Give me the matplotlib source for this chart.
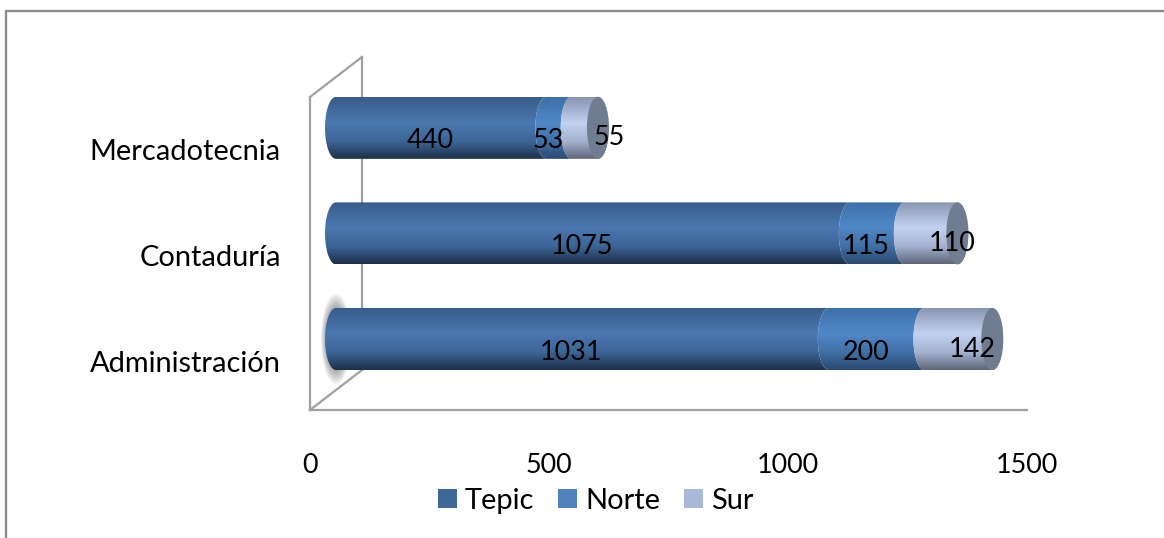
import numpy as np
import matplotlib
matplotlib.use("Agg")
import matplotlib.pyplot as plt
from matplotlib.lines import Line2D
from matplotlib.patches import Ellipse, PathPatch, Patch
from matplotlib.path import Path
from matplotlib.colors import LinearSegmentedColormap
from matplotlib.transforms import Affine2D

categories = ["Administración", "Contaduría", "Mercadotecnia"]
series_names = ["Tepic", "Norte", "Sur"]
tepic = [1031, 1075, 440]
norte = [200, 115, 53]
sur = [142, 110, 55]
x_ticks = [0, 500, 1000, 1500]

legend_colors = ["#3f6797", "#4f81bd", "#aab9d8"]
# top edge, highlight, lower part, bottom edge of each cylinder segment
gradients = [
    ["#375c8a", "#4a78b0", "#3d6596", "#1d3049"],
    ["#3c70a8", "#5088c8", "#416fa5", "#2a4a70"],
    ["#8794b0", "#c2d2f0", "#a4b2cf", "#5f6678"],
]
cap_color = "#707d90"
wall_color = "#a0a0a0"
border_color = "#8c8c8c"

W, H = 1164, 538
plt.rcParams["font.family"] = ["Lato", "DejaVu Sans"]
FS_TEXT = 29 * 72 / 100
FS_NUM = 27 * 72 / 100

fig = plt.figure(figsize=(W / 100, H / 100), dpi=100, facecolor="white")
# only the top and left edges of the frame are in the picture
fig.add_artist(Line2D([5.5 / W, 5.5 / W, 1], [0, 1 - 11 / H, 1 - 11 / H],
                      transform=fig.transFigure, color=border_color, lw=1.7))

ax = fig.add_axes([310 / W, 1 - 410 / H, (1027 - 310) / W, (410 - 97) / H])
ax.set_xlim(0, 1500)
ax.set_ylim(-0.464, 2.5)
ax.patch.set_alpha(0)

# pixel offset of the bars and of the back wall behind the front plane
bar_shift = ax.transData + Affine2D().translate(26, 22)
wall_shift = ax.transData + Affine2D().translate(52, 40)

sx = (1027 - 310) / 1500
sy = 105.5
rx = 11 / sx
half = 31 / sy

for spine in ["top", "right"]:
    ax.spines[spine].set_visible(False)
for spine in ["left", "bottom"]:
    ax.spines[spine].set_color(wall_color)
    ax.spines[spine].set_linewidth(1.6)

ax.set_xticks(x_ticks)
ax.set_yticks(range(len(categories)))
ax.set_yticklabels(categories)
ax.tick_params(axis="both", length=0, labelcolor="#000000")
ax.tick_params(axis="x", pad=31, labelsize=FS_NUM)
ax.tick_params(axis="y", pad=21, labelsize=FS_TEXT)

# back wall edges
y0, y1 = ax.get_ylim()
ax.plot([0, 0], [y0, y1], color=wall_color, lw=1.6, transform=wall_shift, clip_on=False, zorder=1)
for yy in (y0, y1):
    ax.plot([0, 52 / sx], [yy, yy + 40 / sy], color=wall_color, lw=1.6, clip_on=False, zorder=1)

# blurred shadow behind the base of the lowest bar
for k in np.linspace(1, 0.25, 16):
    ax.add_patch(Ellipse((0, 0), 2 * 15 * k / sx, 2 * 45 * k / sy, facecolor="#303030",
                         alpha=0.07, edgecolor="none", transform=bar_shift,
                         clip_on=False, zorder=1.5))


def segment_path(a, b, yc, last):
    # cylinder side: the start bulges left, the end follows the rim of the next
    # segment, the last one closes to the right so the cap can sit on it
    t = np.linspace(np.pi / 2, 3 * np.pi / 2, 40)
    xl = a + rx * np.cos(t)
    yl = yc + half * np.sin(t)
    sign = -1 if last else 1
    xr = b + sign * rx * np.cos(t[::-1])
    yr = yc + half * np.sin(t[::-1])
    return Path(np.column_stack([np.r_[xl, xr], np.r_[yl, yr]]))


for i in range(len(categories)):
    left = 0
    for j, (vals, stops) in enumerate(zip([tepic, norte, sur], gradients)):
        right = left + vals[i]
        cmap = LinearSegmentedColormap.from_list(
            "cyl", list(zip([0, 0.42, 0.72, 1], stops)))
        grad = np.linspace(0, 1, 120).reshape(-1, 1)
        im = ax.imshow(grad, cmap=cmap, aspect="auto", origin="upper",
                       extent=[left - rx, right + rx, i - half, i + half],
                       transform=bar_shift, zorder=2, clip_on=True)
        im.set_clip_path(PathPatch(segment_path(left, right, i, j == 2), transform=bar_shift))
        left = right
    ax.add_patch(Ellipse((left, i), 2 * rx, 2 * half, facecolor=cap_color,
                         edgecolor="none", transform=bar_shift, clip_on=False, zorder=3))

ax.set_xlim(0, 1500)
ax.set_ylim(y0, y1)

# data labels
sur_dx = [40, 47, 50]
for i in range(len(categories)):
    ax.annotate(str(tepic[i]), (tepic[i] / 2, i), xytext=(15, 9), textcoords="offset pixels",
                ha="center", va="center", fontsize=FS_NUM, zorder=5, annotation_clip=False)
    ax.annotate(str(norte[i]), (tepic[i] + norte[i] / 2, i), xytext=(15, 9), textcoords="offset pixels",
                ha="center", va="center", fontsize=FS_NUM, zorder=5, annotation_clip=False)
    ax.annotate(str(sur[i]), (tepic[i] + norte[i] + sur[i] / 2, i), xytext=(sur_dx[i], 12),
                textcoords="offset pixels",
                ha="center", va="center", fontsize=FS_NUM, zorder=5, annotation_clip=False)

handles = [Patch(facecolor=c, label=n) for c, n in zip(legend_colors, series_names)]
fig.legend(handles=handles, loc="center", bbox_to_anchor=(596 / W, 1 - 501 / H), ncol=3,
           frameon=False, fontsize=FS_TEXT, handlelength=0.65, handleheight=0.65,
           handletextpad=0.28, columnspacing=0.83, borderpad=0)

fig.savefig("out.png", dpi=100)
